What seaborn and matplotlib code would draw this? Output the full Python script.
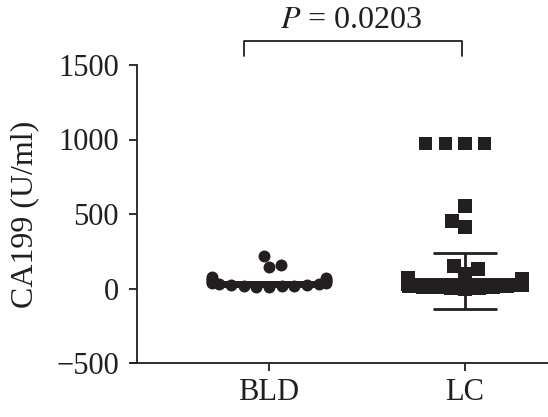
import warnings
import numpy as np
import pandas as pd
import seaborn as sns
import matplotlib.pyplot as plt

warnings.filterwarnings("ignore")

# Data (CA199, U/ml)
bld_values = [10, 13, 15, 18, 20, 23, 26, 29, 32, 35, 38,
              42, 48, 54, 60, 66, 72, 78,
              143, 157, 216]
lc_values = [0, 3, 5, 8, 10, 13, 16, 19, 22, 25,
             32, 38, 44, 50, 56, 62, 70,
             96, 130, 150, 411, 452, 552, 975, 975, 975, 975]
groups = ["BLD", "LC"]
mean_vals = [30, 50]
sd_vals = [15, 187]
p_text = "$\\it{P}$ = 0.0203"

# layout: where each group sits on the numeric x axis
group_pos = {"BLD": 0.0, "LC": 1.38}
ink = "#231f20"

sns.set_style("ticks")
plt.rcParams["font.family"] = ["Liberation Serif", "DejaVu Serif"]
plt.rcParams["mathtext.fontset"] = "stix"

df = pd.DataFrame({
    "group": ["BLD"] * len(bld_values) + ["LC"] * len(lc_values),
    "value": bld_values + lc_values,
})
df["pos"] = df["group"].map(group_pos)

fig = plt.figure(figsize=(5.48, 4.17), dpi=100)
ax = fig.add_axes([131 / 548, 54 / 417, 417 / 548, 298 / 417])

xs = np.array([group_pos[g] for g in groups])

# mean line and SD bars
ax.hlines(mean_vals, xs - 0.38, xs + 0.38, color=ink, lw=5, zorder=2)
ax.errorbar(xs, mean_vals, yerr=sd_vals, fmt="none", ecolor=ink,
            elinewidth=2, capsize=23, capthick=2, zorder=1)

bld = df[df.group == "BLD"]
lc = df[df.group == "LC"]
sns.swarmplot(data=bld, x="pos", y="value", native_scale=True,
              marker="o", size=8.6, color=ink, linewidth=0, ax=ax, zorder=3)
sns.swarmplot(data=lc[lc.value < 900], x="pos", y="value", native_scale=True,
              marker="s", size=9.6, color=ink, linewidth=0, ax=ax, zorder=3)
# the row of squares at the top is drawn with a little space between them
sns.swarmplot(data=lc[lc.value >= 900], x="pos", y="value", native_scale=True,
              marker="s", size=9.6, color=ink, linewidth=3.9,
              edgecolor="none", ax=ax, zorder=3)
ax.set_xlim(-0.972, 1.965)
ax.set_ylim(-500, 1500)

sns.despine(ax=ax)
ax.spines["left"].set_position(("data", -0.930))
for s in ["left", "bottom"]:
    ax.spines[s].set_linewidth(1.3)
    ax.spines[s].set_color(ink)
ax.set_xticks(xs)
ax.set_xticklabels(groups)
ax.set_yticks([-500, 0, 500, 1000, 1500])
ax.set_yticklabels(["\u2212500", "0", "500", "1000", "1500"])
ax.tick_params(axis="both", length=6, width=1.3, color=ink, labelsize=22,
               labelcolor=ink)
ax.tick_params(axis="y", pad=7)
ax.tick_params(axis="x", pad=5)
ax.set_xlabel("")
ax.set_ylabel("CA199 (U/ml)", fontsize=23, color=ink, labelpad=12)

# significance bracket
ax.plot([-0.176, -0.176, 1.359, 1.359], [1559, 1660, 1660, 1559], color=ink,
        lw=1.3, clip_on=False)
ax.text(0.58, 1700, p_text, ha="center", va="bottom", fontsize=23, color=ink,
        clip_on=False)

fig.savefig("out.png", dpi=100)
